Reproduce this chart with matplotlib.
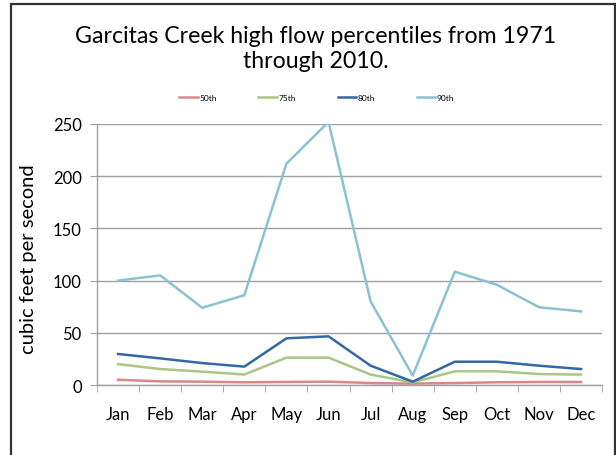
import matplotlib
matplotlib.use('Agg')
import matplotlib.pyplot as plt
from matplotlib.patches import Rectangle

months = ['Jan', 'Feb', 'Mar', 'Apr', 'May', 'Jun', 'Jul', 'Aug', 'Sep', 'Oct', 'Nov', 'Dec']
p50 = [5, 3.5, 3.2, 2.6, 2.9, 3.2, 1.9, 1.3, 1.9, 2.6, 2.9, 2.9]
p75 = [20, 15.3, 12.8, 10, 26.2, 26.2, 10, 2.5, 13.1, 13.1, 10.5, 10]
p80 = [29.7, 25.5, 21, 17.6, 44.7, 46.6, 18.5, 3.2, 22.3, 22.3, 18.5, 15.3]
p90 = [100, 105, 74, 86, 212, 252, 80, 9, 108.5, 96, 74.5, 70.5]

series = [('50th', p50, '#D98885'), ('75th', p75, '#A9C685'),
          ('80th', p80, '#3467A6'), ('90th', p90, '#8AC2D2')]

plt.rcParams['font.family'] = ['Lato', 'DejaVu Sans']

fig = plt.figure(figsize=(6.16, 4.56), dpi=100)
# chart frame (bottom edge falls outside the image)
fig.patches.append(Rectangle((11 / 616, -0.05), 604 / 616, 1.05 - 5 / 456,
                             transform=fig.transFigure, fill=False,
                             edgecolor='#333333', linewidth=1.6))
ax = fig.add_axes([0.1575, 0.1535, 0.82, 0.5724])

x = list(range(len(months)))
for name, vals, col in series:
    ax.plot(x, vals, color=col, linewidth=1.8, label=name)

ax.set_xlim(-0.5, 11.5)
ax.set_ylim(0, 250)
ax.set_yticks(range(0, 251, 50))
ax.set_xticks(x)
ax.set_xticklabels(months, fontsize=12)
ax.set_xticks([i - 0.5 for i in range(13)], minor=True)
ax.tick_params(axis='x', which='major', length=0, pad=15)
ax.tick_params(axis='x', which='minor', length=5, color='#A0A0A0')
ax.tick_params(axis='y', length=5, color='#A0A0A0', labelsize=12, pad=6)
ax.grid(axis='y', color='#A0A0A0', linewidth=1)
ax.set_axisbelow(True)
for s in ['top', 'right']:
    ax.spines[s].set_visible(False)
for s in ['left', 'bottom']:
    ax.spines[s].set_color('#A0A0A0')
    ax.spines[s].set_linewidth(1)

ax.set_ylabel('cubic feet per second', fontsize=14.5)
ax.yaxis.set_label_coords(-0.119, 0.485)
fig.text(0.512, 0.893, 'Garcitas Creek high flow percentiles from 1971\nthrough 2010.',
         ha='center', va='center', fontsize=16.7, linespacing=1.25)
ax.legend(loc='center', bbox_to_anchor=(0.435, 1.1), ncol=4, frameon=False,
          fontsize=6, handlelength=2.2, columnspacing=5.0, handletextpad=0.2)

fig.savefig('out.png', dpi=100)
